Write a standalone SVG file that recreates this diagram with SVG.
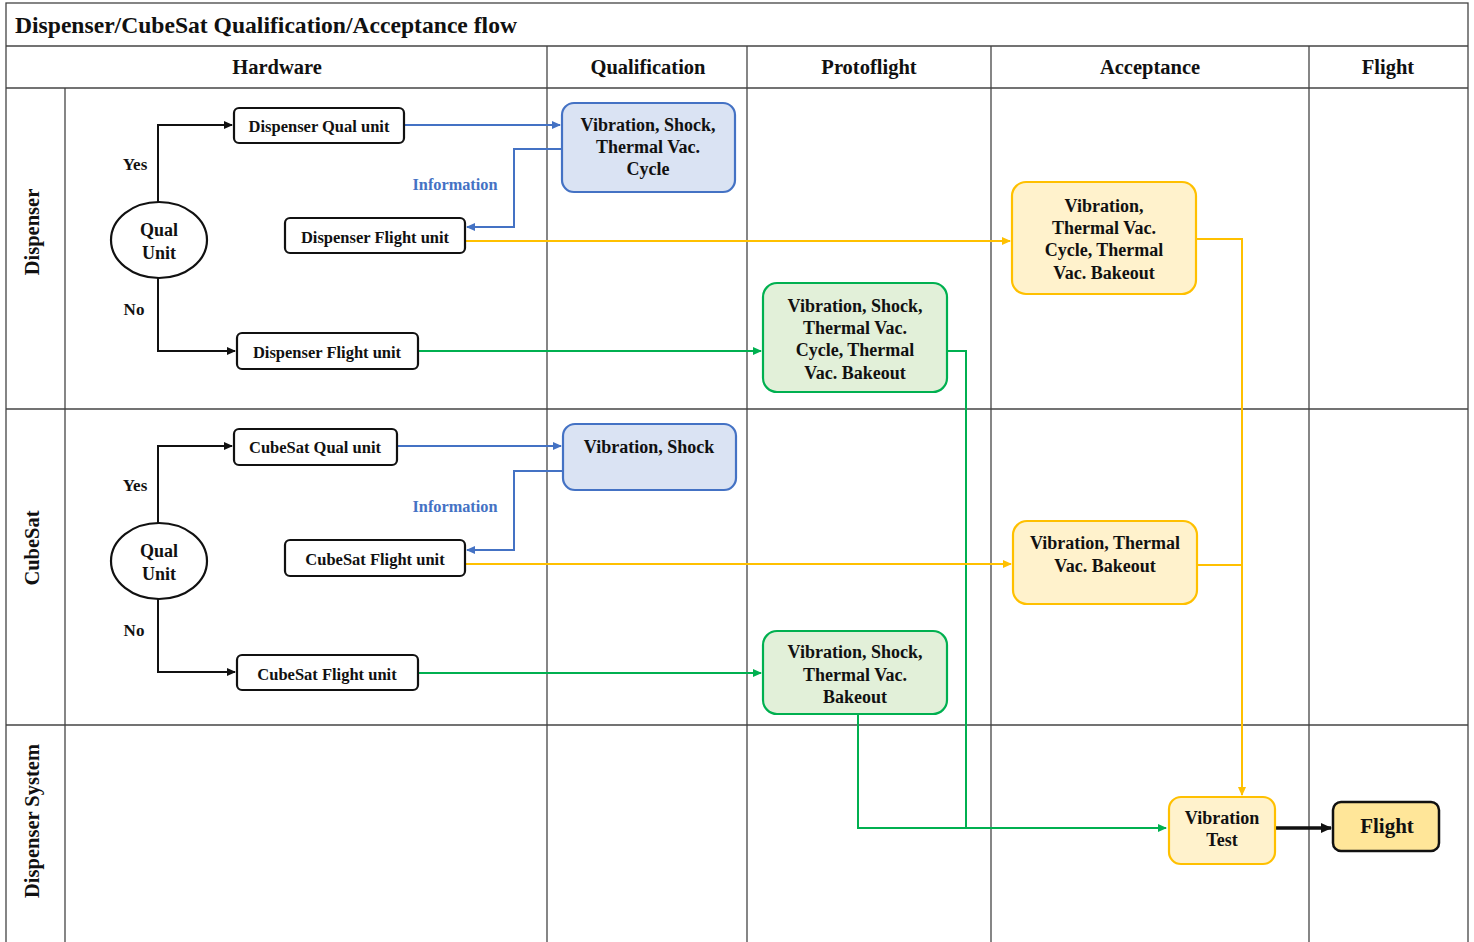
<svg xmlns="http://www.w3.org/2000/svg" width="1474" height="942" viewBox="0 0 1474 942">
<style>
text{font-family:"Liberation Serif","Times New Roman",serif;font-weight:bold;fill:#111}
.grid{stroke:#444;stroke-width:1.3;fill:none}
.t{font-size:16.5px;text-anchor:middle}
.b{font-size:18px;text-anchor:middle}
.h{font-size:20.5px;text-anchor:middle}
.yn{font-size:17px;text-anchor:middle}
.info{font-size:16.3px;text-anchor:middle;fill:#4472c4}
.box{fill:#fff;stroke:#111;stroke-width:2.2}
.blue{fill:#dae3f3;stroke:#4472c4;stroke-width:2.2}
.yel{fill:#fff2cc;stroke:#ffc000;stroke-width:2.2}
.grn{fill:#e2f0d9;stroke:#00b050;stroke-width:2.2}
.k{stroke:#111;stroke-width:2;fill:none}
.cb{stroke:#4472c4;stroke-width:2;fill:none}
.cy{stroke:#ffc000;stroke-width:2;fill:none}
.cg{stroke:#00b050;stroke-width:2;fill:none}
</style>
<defs>
<marker id="ak" markerWidth="10" markerHeight="10" refX="8" refY="5" orient="auto" markerUnits="userSpaceOnUse"><path d="M0,1 L9,5 L0,9 z" fill="#111"/></marker>
<marker id="ab" markerWidth="10" markerHeight="10" refX="8" refY="5" orient="auto" markerUnits="userSpaceOnUse"><path d="M0,1 L9,5 L0,9 z" fill="#4472c4"/></marker>
<marker id="ay" markerWidth="10" markerHeight="10" refX="8" refY="5" orient="auto" markerUnits="userSpaceOnUse"><path d="M0,1 L9,5 L0,9 z" fill="#ffc000"/></marker>
<marker id="ag" markerWidth="10" markerHeight="10" refX="8" refY="5" orient="auto" markerUnits="userSpaceOnUse"><path d="M0,1 L9,5 L0,9 z" fill="#00b050"/></marker>
<marker id="akb" markerWidth="12" markerHeight="12" refX="10" refY="6" orient="auto" markerUnits="userSpaceOnUse"><path d="M0,1 L11,6 L0,11 z" fill="#111"/></marker>
</defs>
<rect width="1474" height="942" fill="#fff"/>
<g id="grid">
<rect class="grid" x="6" y="3" width="1462" height="945"/>
<line class="grid" x1="6" y1="46" x2="1468" y2="46"/>
<line class="grid" x1="6" y1="88" x2="1468" y2="88"/>
<line class="grid" x1="6" y1="409" x2="1468" y2="409"/>
<line class="grid" x1="6" y1="725" x2="1468" y2="725"/>
<line class="grid" x1="65" y1="88" x2="65" y2="942"/>
<line class="grid" x1="547" y1="46" x2="547" y2="942"/>
<line class="grid" x1="747" y1="46" x2="747" y2="942"/>
<line class="grid" x1="991" y1="46" x2="991" y2="942"/>
<line class="grid" x1="1309" y1="46" x2="1309" y2="942"/>
<text x="15" y="33" style="font-size:23.6px">Dispenser/CubeSat Qualification/Acceptance flow</text>
<text class="h" x="277" y="74">Hardware</text>
<text class="h" x="648" y="74">Qualification</text>
<text class="h" x="869" y="74">Protoflight</text>
<text class="h" x="1150" y="74">Acceptance</text>
<text class="h" x="1388" y="74">Flight</text>
<text class="h" transform="translate(39,232) rotate(-90)">Dispenser</text>
<text class="h" transform="translate(39,548) rotate(-90)">CubeSat</text>
<text class="h" transform="translate(39,821) rotate(-90)">Dispenser System</text>
</g>
<g id="connectors">
<polyline class="k" points="158,202 158,125 232,125" marker-end="url(#ak)"/>
<polyline class="k" points="158,278 158,351 235,351" marker-end="url(#ak)"/>
<text class="yn" x="135" y="170">Yes</text>
<text class="yn" x="134" y="315">No</text>
<polyline class="cb" points="404,125 560,125" marker-end="url(#ab)"/>
<polyline class="cb" points="562,149 514,149 514,227 467,227" marker-end="url(#ab)"/>
<text class="info" x="455" y="190">Information</text>
<polyline class="cy" points="465,241 1010,241" marker-end="url(#ay)"/>
<polyline class="cg" points="418,351 761,351" marker-end="url(#ag)"/>
<polyline class="cg" points="947,351 966,351 966,828"/>
<polyline class="cy" points="1196,239 1242,239 1242,795" marker-end="url(#ay)"/>

<polyline class="k" points="158,523 158,446 232,446" marker-end="url(#ak)"/>
<polyline class="k" points="158,599 158,672 235,672" marker-end="url(#ak)"/>
<text class="yn" x="135" y="491">Yes</text>
<text class="yn" x="134" y="636">No</text>
<polyline class="cb" points="397,446 561,446" marker-end="url(#ab)"/>
<polyline class="cb" points="563,471 514,471 514,550 467,550" marker-end="url(#ab)"/>
<text class="info" x="455" y="512">Information</text>
<polyline class="cy" points="465,564 1011,564" marker-end="url(#ay)"/>
<polyline class="cy" points="1197,565 1242,565"/>
<polyline class="cg" points="418,673 761,673" marker-end="url(#ag)"/>
<polyline class="cg" points="858,714 858,828 1166,828" marker-end="url(#ag)"/>
<line x1="1275" y1="828" x2="1331" y2="828" stroke="#111" stroke-width="3.5" marker-end="url(#akb)"/>
</g>
<g id="disp-qual-decision"><ellipse cx="159" cy="240" rx="48" ry="38" class="box"/><text class="b" x="159" y="236">Qual</text><text class="b" x="159" y="259">Unit</text></g>
<g id="disp-qual-unit"><rect class="box" x="234" y="108" width="170" height="35" rx="5"/><text class="t" x="319" y="132">Dispenser Qual unit</text></g>
<g id="disp-flight-unit-1"><rect class="box" x="285" y="218" width="180" height="35" rx="5"/><text class="t" x="375" y="243">Dispenser Flight unit</text></g>
<g id="disp-flight-unit-2"><rect class="box" x="237" y="333" width="181" height="36" rx="5"/><text class="t" x="327" y="358">Dispenser Flight unit</text></g>
<g id="disp-qual-test"><rect class="blue" x="562" y="103" width="173" height="89" rx="12"/><text class="b" x="648" y="131">Vibration, Shock,</text><text class="b" x="648" y="153">Thermal Vac.</text><text class="b" x="648" y="175">Cycle</text></g>
<g id="disp-accept-test"><rect class="yel" x="1012" y="182" width="184" height="112" rx="14"/><text class="b" x="1104" y="212">Vibration,</text><text class="b" x="1104" y="234">Thermal Vac.</text><text class="b" x="1104" y="256">Cycle, Thermal</text><text class="b" x="1104" y="279">Vac. Bakeout</text></g>
<g id="disp-proto-test"><rect class="grn" x="763" y="283" width="184" height="109" rx="14"/><text class="b" x="855" y="312">Vibration, Shock,</text><text class="b" x="855" y="334">Thermal Vac.</text><text class="b" x="855" y="356">Cycle, Thermal</text><text class="b" x="855" y="379">Vac. Bakeout</text></g>

<g id="cs-qual-decision"><ellipse cx="159" cy="561" rx="48" ry="38" class="box"/><text class="b" x="159" y="557">Qual</text><text class="b" x="159" y="580">Unit</text></g>
<g id="cs-qual-unit"><rect class="box" x="234" y="429" width="163" height="36" rx="5"/><text class="t" x="315" y="453">CubeSat Qual unit</text></g>
<g id="cs-flight-unit-1"><rect class="box" x="285" y="540" width="180" height="36" rx="5"/><text class="t" x="375" y="565">CubeSat Flight unit</text></g>
<g id="cs-flight-unit-2"><rect class="box" x="237" y="655" width="181" height="35" rx="5"/><text class="t" x="327" y="680">CubeSat Flight unit</text></g>
<g id="cs-qual-test"><rect class="blue" x="563" y="424" width="173" height="66" rx="12"/><text class="b" x="649" y="453">Vibration, Shock</text></g>
<g id="cs-accept-test"><rect class="yel" x="1013" y="521" width="184" height="83" rx="14"/><text class="b" x="1105" y="549">Vibration, Thermal</text><text class="b" x="1105" y="572">Vac. Bakeout</text></g>
<g id="cs-proto-test"><rect class="grn" x="763" y="631" width="184" height="83" rx="14"/><text class="b" x="855" y="658">Vibration, Shock,</text><text class="b" x="855" y="681">Thermal Vac.</text><text class="b" x="855" y="703">Bakeout</text></g>

<g id="vibration-test"><rect class="yel" x="1169" y="797" width="106" height="67" rx="12"/><text class="b" x="1222" y="824">Vibration</text><text class="b" x="1222" y="846">Test</text></g>
<g id="flight"><rect x="1333" y="802" width="106" height="49" rx="8" fill="#ffe699" stroke="#111" stroke-width="2.5"/><text x="1387" y="833" style="font-size:21px;text-anchor:middle">Flight</text></g>
</svg>
